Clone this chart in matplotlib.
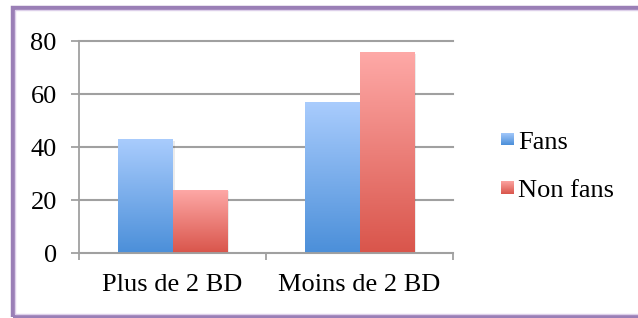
import numpy as np
import matplotlib.pyplot as plt
from matplotlib.colors import LinearSegmentedColormap
from matplotlib.patches import Rectangle

categories = ["Plus de 2 BD", "Moins de 2 BD"]
series = ["Fans", "Non fans"]
fans = [43, 57]
non_fans = [24, 76]
yticks = [0, 20, 40, 60, 80]

plt.rcParams['font.family'] = ['Liberation Serif', 'DejaVu Serif']

fig = plt.figure(figsize=(6.38, 3.18), dpi=100)
W, H = 638, 318
ax = fig.add_axes([79 / W, 1 - 253 / H, (453 - 79) / W, (253 - 41.5) / H])

grad = {
    "Fans": LinearSegmentedColormap.from_list("b", ["#4b8fd9", "#a9ccfd"]),
    "Non fans": LinearSegmentedColormap.from_list("r", ["#d9554b", "#fea9a7"]),
}

x = np.arange(len(categories))
w = 0.289
gradient = np.linspace(0, 1, 256).reshape(-1, 1)
for name, vals, off in [("Fans", fans, -w / 2), ("Non fans", non_fans, w / 2)]:
    bars = ax.bar(x + off, vals, w, color='none', zorder=3)
    for b in bars:
        x0, y0 = b.get_x(), b.get_y()
        bw, bh = b.get_width(), b.get_height()
        # soft shadow
        ax.add_patch(Rectangle((x0 + 0.012, y0), bw, bh - 0.6, color='#000000',
                               alpha=0.08, zorder=2, lw=0))
        im = ax.imshow(gradient, cmap=grad[name], origin='lower', aspect='auto',
                       extent=[x0, x0 + bw, y0, y0 + bh], zorder=3)
        im.set_clip_path(b)

ax.set_xlim(-0.5, 1.5)
ax.set_ylim(0, 80)
ax.set_yticks(yticks)
ax.set_xticks(x)
ax.set_xticklabels(categories)
ax.set_xticks([-0.5, 0.5, 1.5], minor=True)
ax.tick_params(axis='x', which='major', length=0, pad=15, labelsize=19)
ax.tick_params(axis='x', which='minor', length=5, width=1.3, color='#a0a0a0')
ax.tick_params(axis='y', length=6, width=1.3, color='#a0a0a0', pad=10, labelsize=19)
ax.grid(axis='y', color='#a0a0a0', lw=1.5, zorder=1)
for gl in ax.get_ygridlines():
    gl.set_clip_on(False)
ax.set_axisbelow(True)
for s in ['top', 'right']:
    ax.spines[s].set_visible(False)
for s in ['left', 'bottom']:
    ax.spines[s].set_color('#a0a0a0')
    ax.spines[s].set_linewidth(1.3)
ax.spines['bottom'].set_zorder(4)

# legend with gradient squares
for i, name in enumerate(series):
    yc = 139 + i * 48
    lax = fig.add_axes([501 / W, 1 - (yc + 6.5) / H, 13 / W, 13 / H])
    lax.imshow(gradient, cmap=grad[name], origin='lower', aspect='auto')
    lax.axis('off')
    fig.text(518 / W, 1 - (yc + 4) / H, name, fontsize=19, va='center', ha='left')

# purple frame
fig.add_artist(Rectangle((12.5 / W, 1.5 / H), 700 / W, (309 / H), fill=False,
                         ec='#9a7fb6', lw=3.2, transform=fig.transFigure))
fig.add_artist(Rectangle((14.8 / W, 3.8 / H), 700 / W, (304.5 / H), fill=False,
                         ec='#ddd0ea', lw=1, transform=fig.transFigure))

fig.savefig("out.png", dpi=100)
